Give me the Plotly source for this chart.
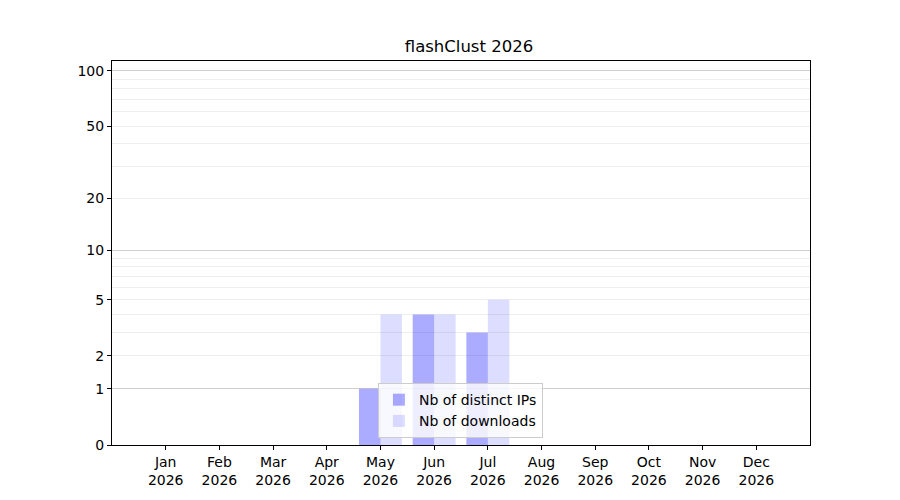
import numpy as np
import plotly.graph_objects as go

months = ["Jan", "Feb", "Mar", "Apr", "May", "Jun", "Jul", "Aug", "Sep", "Oct", "Nov", "Dec"]
year = 2026
distinct_ips = [0, 0, 0, 0, 1, 4, 3, 0, 0, 0, 0, 0]
downloads = [0, 0, 0, 0, 4, 4, 5, 0, 0, 0, 0, 0]
y_ticks = [0, 1, 2, 5, 10, 20, 50, 100]
y_major_grid = [1, 10, 100]
y_minor_grid = [2, 3, 4, 5, 6, 7, 8, 9, 20, 30, 40, 50, 60, 70, 80, 90]
y_max = 113


def fwd(v):
    # y axis drawn as log10(1 + y)
    return np.log10(1 + np.asarray(v, dtype=float))


x_labels = [f"{m}<br>{year}" for m in months]
x = list(range(len(months)))

fig = go.Figure()
fig.add_trace(go.Bar(
    x=x, y=fwd(distinct_ips), name="Nb of distinct IPs",
    marker=dict(color="rgba(0,0,255,0.33)", line=dict(width=0)),
))
fig.add_trace(go.Bar(
    x=x, y=fwd(downloads), name="Nb of downloads",
    marker=dict(color="rgba(0,0,255,0.135)", line=dict(width=0)),
))
# invisible trace on overlay axis to carry the darker major grid lines
fig.add_trace(go.Scatter(x=[0], y=[0], yaxis="y2", showlegend=False,
                         mode="markers", marker=dict(opacity=0), hoverinfo="skip"))

font = "DejaVu Sans, sans-serif"
# page body has an 8px margin, so the figure margins are trimmed to match
fig.update_layout(
    width=900, height=500,
    margin=dict(l=104, r=98, t=53, b=63),
    plot_bgcolor="white", paper_bgcolor="white",
    font=dict(family=font, size=14, color="black"),
    title=dict(text="flashClust 2026", x=0.5122, xanchor="center", y=0.924, yanchor="middle",
               font=dict(size=16.5, family=font, color="black")),
    barmode="group", bargap=0.2, bargroupgap=0,
    legend=dict(x=0.381, y=0.018, xanchor="left", yanchor="bottom",
                bgcolor="rgba(255,255,255,0.8)", bordercolor="#cccccc", borderwidth=1,
                font=dict(size=14, family=font, color="black"),
                tracegroupgap=0, itemwidth=30),
    xaxis=dict(
        tickmode="array", tickvals=x, ticktext=x_labels, range=[-1, 12],
        showgrid=False, zeroline=False,
        showline=True, linecolor="black", linewidth=1, mirror=True,
        ticks="outside", ticklen=4, tickcolor="black",
    ),
    yaxis=dict(
        tickmode="array", tickvals=fwd(y_ticks), ticktext=[str(t) for t in y_ticks],
        range=[0, float(fwd(y_max))], showgrid=False, zeroline=False,
        showline=True, linecolor="black", linewidth=1, mirror=True,
        ticks="outside", ticklen=4, tickcolor="black",
        minor=dict(tickvals=fwd(y_minor_grid), showgrid=True, gridcolor="#eeeeee",
                   gridwidth=1, ticks=""),
    ),
    yaxis2=dict(
        overlaying="y", range=[0, float(fwd(y_max))], tickmode="array",
        tickvals=fwd(y_major_grid), showticklabels=False, showgrid=True,
        gridcolor="#cfcfcf", gridwidth=1, zeroline=False, layer="below traces",
    ),
)

fig.write_html("out.html")
